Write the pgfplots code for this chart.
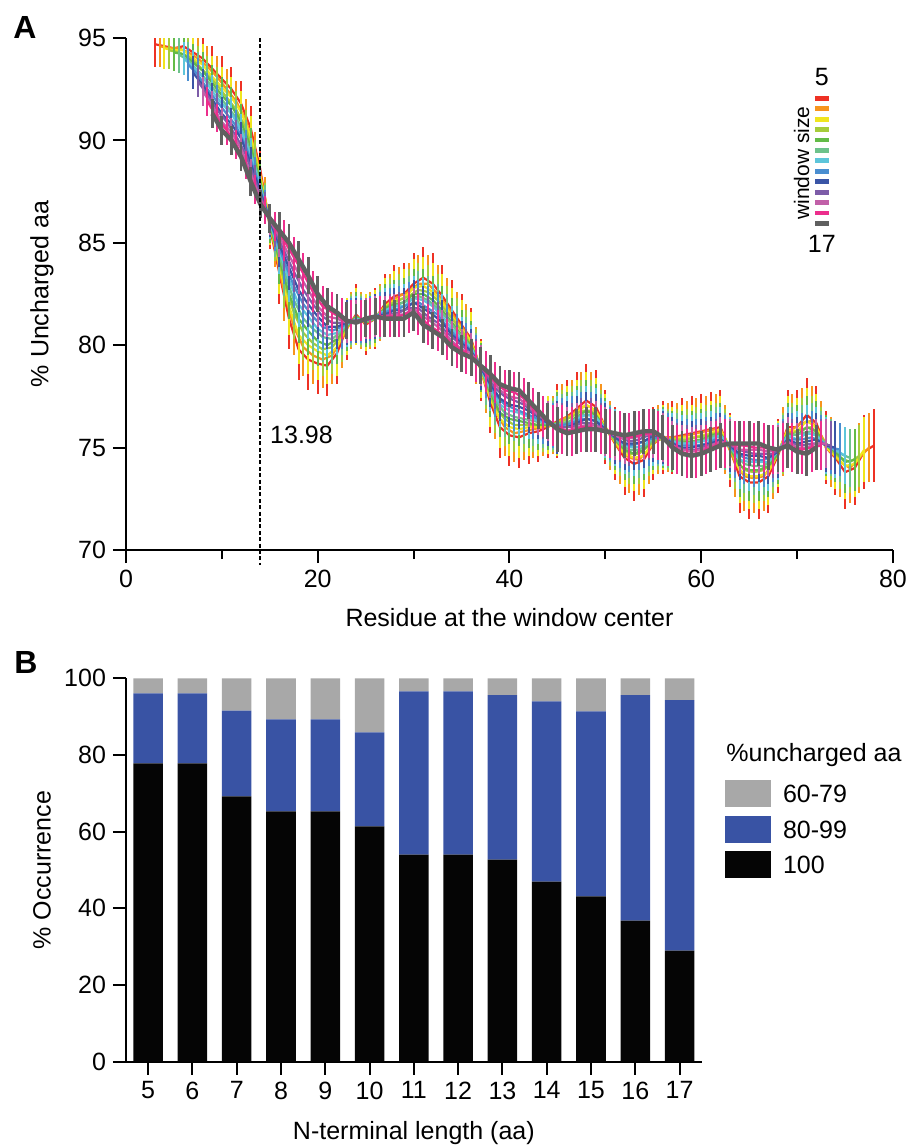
\documentclass[border=0pt]{standalone}
\usepackage{fontspec}
\setmainfont{Liberation Sans}
\usepackage{pgfplots}
\pgfplotsset{compat=1.18}
\usepackage{pgfplotstable}
\definecolor{c5}{HTML}{EE3124}
\definecolor{c6}{HTML}{F7941D}
\definecolor{c7}{HTML}{F0E51E}
\definecolor{c8}{HTML}{A6CC3A}
\definecolor{c9}{HTML}{63BB47}
\definecolor{c10}{HTML}{6DC28B}
\definecolor{c11}{HTML}{5DC5DA}
\definecolor{c12}{HTML}{4A8ED0}
\definecolor{c13}{HTML}{3A55A6}
\definecolor{c14}{HTML}{7D5CA8}
\definecolor{c15}{HTML}{C160A8}
\definecolor{c16}{HTML}{EC2E8C}
\definecolor{c17}{HTML}{606060}
\definecolor{bgray}{HTML}{A8A8A8}
\definecolor{bblue}{HTML}{3953A4}
\definecolor{bblack}{HTML}{050505}
% window size 5
\pgfplotstableread{
x y e
3 94.7 1.1
4 94.6 1.1
5 94.5 1.1
6 94.6 1.1
7 94.3 1.1
8 94.0 1.1
9 93.5 1.1
10 93.0 1.1
11 92.5 1.1
12 91.8 1.1
13 90.6 1.1
14 88.6 1.1
15 85.8 1.1
16 83.5 1.5
17 81.3 1.5
18 79.8 1.5
19 79.3 1.5
20 79.1 1.5
21 79.0 1.5
22 79.6 1.5
23 80.8 1.5
24 81.5 1.5
25 81.0 1.5
26 81.3 1.5
27 82.0 1.5
28 82.4 1.5
29 82.5 1.5
30 83.0 1.5
31 83.3 1.5
32 83.0 1.5
33 82.4 1.5
34 81.7 1.5
35 81.0 1.5
36 80.3 1.5
37 78.8 1.5
38 77.2 1.5
39 76.0 1.5
40 75.6 1.5
41 75.5 1.5
42 75.7 1.5
43 75.8 1.5
44 76.0 1.5
45 76.3 1.8
46 76.5 1.8
47 76.9 1.8
48 77.3 1.8
49 77.0 1.8
50 76.0 1.8
51 75.2 1.8
52 74.5 1.8
53 74.2 1.8
54 74.4 1.8
55 75.2 1.8
56 75.5 1.8
57 75.5 1.8
58 75.6 1.8
59 75.7 1.8
60 75.8 1.8
61 75.9 1.8
62 76.0 1.8
63 74.9 1.8
64 73.6 1.8
65 73.3 1.8
66 73.3 1.8
67 73.6 1.8
68 74.6 1.8
69 76.0 1.8
70 76.0 1.8
71 76.6 1.8
72 76.2 1.8
73 75.0 1.8
74 74.5 1.8
75 73.8 1.8
76 74.0 1.8
77 74.8 1.8
78 75.1 1.8
}\dwA
% window size 6
\pgfplotstableread{
x y e
3.5 94.6 1.0
4.5 94.5 1.0
5.5 94.5 1.0
6.5 94.3 1.0
7.5 94.0 1.0
8.5 93.6 1.0
9.5 93.1 1.0
10.5 92.5 1.0
11.5 91.9 1.0
12.5 91.0 1.0
13.5 89.4 1.0
14.5 87.2 1.0
15.5 84.8 1.0
16.5 82.6 1.4
17.5 80.9 1.4
18.5 79.9 1.4
19.5 79.5 1.4
20.5 79.3 1.4
21.5 79.5 1.4
22.5 80.3 1.4
23.5 81.2 1.4
24.5 81.2 1.4
25.5 81.2 1.4
26.5 81.6 1.4
27.5 82.1 1.4
28.5 82.4 1.4
29.5 82.6 1.4
30.5 83.0 1.4
31.5 83.0 1.4
32.5 82.5 1.4
33.5 81.9 1.4
34.5 81.2 1.4
35.5 80.6 1.4
36.5 79.5 1.4
37.5 78.1 1.4
38.5 76.8 1.4
39.5 76.0 1.4
40.5 75.7 1.4
41.5 75.8 1.4
42.5 75.9 1.4
43.5 76.0 1.4
44.5 76.1 1.4
45.5 76.4 1.7
46.5 76.6 1.7
47.5 77.0 1.7
48.5 77.0 1.7
49.5 76.4 1.7
50.5 75.6 1.7
51.5 74.9 1.7
52.5 74.5 1.7
53.5 74.4 1.7
54.5 74.9 1.7
55.5 75.4 1.7
56.5 75.5 1.7
57.5 75.5 1.7
58.5 75.6 1.7
59.5 75.7 1.7
60.5 75.8 1.7
61.5 75.9 1.7
62.5 75.4 1.7
63.5 74.3 1.7
64.5 73.6 1.7
65.5 73.5 1.7
66.5 73.6 1.7
67.5 74.2 1.7
68.5 75.3 1.7
69.5 75.9 1.7
70.5 76.2 1.7
71.5 76.3 1.7
72.5 75.6 1.7
73.5 74.8 1.7
74.5 74.3 1.7
75.5 74.0 1.7
76.5 74.5 1.7
77.5 75.0 1.7
}\dwB
% window size 7
\pgfplotstableread{
x y e
4 94.5 1.0
5 94.4 1.0
6 94.4 1.0
7 94.0 1.0
8 93.7 1.0
9 93.1 1.0
10 92.6 1.0
11 92.1 1.0
12 91.4 1.0
13 90.2 1.0
14 88.3 1.0
15 85.9 1.0
16 83.9 1.4
17 81.9 1.4
18 80.5 1.4
19 80.0 1.4
20 79.7 1.4
21 79.5 1.4
22 79.9 1.4
23 80.9 1.4
24 81.4 1.4
25 81.1 1.4
26 81.3 1.4
27 81.9 1.4
28 82.2 1.4
29 82.3 1.4
30 82.8 1.4
31 82.9 1.4
32 82.6 1.4
33 82.1 1.4
34 81.4 1.4
35 80.8 1.4
36 80.2 1.4
37 78.8 1.4
38 77.4 1.4
39 76.4 1.4
40 76.0 1.4
41 75.9 1.4
42 76.0 1.4
43 76.0 1.4
44 76.1 1.4
45 76.2 1.6
46 76.4 1.6
47 76.7 1.6
48 77.1 1.6
49 76.8 1.6
50 76.0 1.6
51 75.3 1.6
52 74.7 1.6
53 74.5 1.6
54 74.6 1.6
55 75.3 1.6
56 75.5 1.6
57 75.4 1.6
58 75.5 1.6
59 75.5 1.6
60 75.6 1.6
61 75.7 1.6
62 75.9 1.6
63 75.0 1.6
64 73.9 1.6
65 73.6 1.6
66 73.6 1.6
67 73.8 1.6
68 74.7 1.6
69 75.9 1.6
70 75.8 1.6
71 76.3 1.6
72 76.0 1.6
73 75.0 1.6
74 74.6 1.6
75 74.1 1.6
76 74.2 1.6
77 74.9 1.6
}\dwC
% window size 8
\pgfplotstableread{
x y e
4.5 94.4 0.9
5.5 94.3 0.9
6.5 94.1 0.9
7.5 93.7 0.9
8.5 93.2 0.9
9.5 92.7 0.9
10.5 92.1 0.9
11.5 91.5 0.9
12.5 90.6 0.9
13.5 89.1 0.9
14.5 87.0 0.9
15.5 85.0 0.9
16.5 83.1 1.3
17.5 81.6 1.3
18.5 80.6 1.3
19.5 80.1 1.3
20.5 79.8 1.3
21.5 79.9 1.3
22.5 80.5 1.3
23.5 81.2 1.3
24.5 81.2 1.3
25.5 81.2 1.3
26.5 81.6 1.3
27.5 82.0 1.3
28.5 82.2 1.3
29.5 82.4 1.3
30.5 82.7 1.3
31.5 82.6 1.3
32.5 82.2 1.3
33.5 81.6 1.3
34.5 81.0 1.3
35.5 80.4 1.3
36.5 79.5 1.3
37.5 78.2 1.3
38.5 77.0 1.3
39.5 76.4 1.3
40.5 76.1 1.3
41.5 76.1 1.3
42.5 76.1 1.3
43.5 76.1 1.3
44.5 76.1 1.3
45.5 76.3 1.5
46.5 76.5 1.5
47.5 76.8 1.5
48.5 76.8 1.5
49.5 76.3 1.5
50.5 75.6 1.5
51.5 75.1 1.5
52.5 74.7 1.5
53.5 74.7 1.5
54.5 75.1 1.5
55.5 75.4 1.5
56.5 75.4 1.5
57.5 75.4 1.5
58.5 75.4 1.5
59.5 75.5 1.5
60.5 75.6 1.5
61.5 75.7 1.5
62.5 75.4 1.5
63.5 74.5 1.5
64.5 73.9 1.5
65.5 73.8 1.5
66.5 73.9 1.5
67.5 74.3 1.5
68.5 75.2 1.5
69.5 75.7 1.5
70.5 75.9 1.5
71.5 76.0 1.5
72.5 75.5 1.5
73.5 74.9 1.5
74.5 74.5 1.5
75.5 74.3 1.5
76.5 74.6 1.5
}\dwD
% window size 9
\pgfplotstableread{
x y e
5 94.3 0.9
6 94.2 0.9
7 93.8 0.9
8 93.4 0.9
9 92.8 0.9
10 92.2 0.9
11 91.7 0.9
12 90.9 0.9
13 89.7 0.9
14 88.0 0.9
15 85.9 0.9
16 84.2 1.2
17 82.5 1.2
18 81.3 1.2
19 80.7 1.2
20 80.2 1.2
21 80.0 1.2
22 80.3 1.2
23 80.9 1.2
24 81.4 1.2
25 81.1 1.2
26 81.3 1.2
27 81.8 1.2
28 82.0 1.2
29 82.1 1.2
30 82.5 1.2
31 82.5 1.2
32 82.2 1.2
33 81.7 1.2
34 81.1 1.2
35 80.5 1.2
36 80.0 1.2
37 78.9 1.2
38 77.7 1.2
39 76.7 1.2
40 76.4 1.2
41 76.3 1.2
42 76.2 1.2
43 76.1 1.2
44 76.1 1.2
45 76.2 1.5
46 76.2 1.5
47 76.5 1.5
48 76.8 1.5
49 76.6 1.5
50 75.9 1.5
51 75.4 1.5
52 74.9 1.5
53 74.7 1.5
54 74.9 1.5
55 75.4 1.5
56 75.5 1.5
57 75.3 1.5
58 75.3 1.5
59 75.3 1.5
60 75.4 1.5
61 75.6 1.5
62 75.7 1.5
63 75.0 1.5
64 74.1 1.5
65 73.9 1.5
66 73.9 1.5
67 74.1 1.5
68 74.7 1.5
69 75.7 1.5
70 75.6 1.5
71 76.0 1.5
72 75.8 1.5
73 75.1 1.5
74 74.8 1.5
75 74.3 1.5
76 74.4 1.5
}\dwE
% window size 10
\pgfplotstableread{
x y e
5.5 94.2 0.9
6.5 93.9 0.9
7.5 93.4 0.9
8.5 92.9 0.9
9.5 92.3 0.9
10.5 91.7 0.9
11.5 91.1 0.9
12.5 90.1 0.9
13.5 88.7 0.9
14.5 86.9 0.9
15.5 85.2 0.9
16.5 83.6 1.2
17.5 82.2 1.2
18.5 81.3 1.2
19.5 80.8 1.2
20.5 80.4 1.2
21.5 80.3 1.2
22.5 80.7 1.2
23.5 81.2 1.2
24.5 81.2 1.2
25.5 81.2 1.2
26.5 81.5 1.2
27.5 81.8 1.2
28.5 82.0 1.2
29.5 82.2 1.2
30.5 82.4 1.2
31.5 82.2 1.2
32.5 81.8 1.2
33.5 81.3 1.2
34.5 80.7 1.2
35.5 80.2 1.2
36.5 79.4 1.2
37.5 78.3 1.2
38.5 77.3 1.2
39.5 76.7 1.2
40.5 76.5 1.2
41.5 76.4 1.2
42.5 76.3 1.2
43.5 76.2 1.2
44.5 76.1 1.2
45.5 76.2 1.4
46.5 76.3 1.4
47.5 76.6 1.4
48.5 76.6 1.4
49.5 76.2 1.4
50.5 75.7 1.4
51.5 75.2 1.4
52.5 74.9 1.4
53.5 74.9 1.4
54.5 75.2 1.4
55.5 75.5 1.4
56.5 75.4 1.4
57.5 75.3 1.4
58.5 75.2 1.4
59.5 75.3 1.4
60.5 75.4 1.4
61.5 75.6 1.4
62.5 75.3 1.4
63.5 74.7 1.4
64.5 74.2 1.4
65.5 74.1 1.4
66.5 74.1 1.4
67.5 74.5 1.4
68.5 75.2 1.4
69.5 75.6 1.4
70.5 75.7 1.4
71.5 75.8 1.4
72.5 75.4 1.4
73.5 75.0 1.4
74.5 74.7 1.4
75.5 74.5 1.4
}\dwF
% window size 11
\pgfplotstableread{
x y e
6 94.0 0.8
7 93.6 0.8
8 93.1 0.8
9 92.4 0.8
10 91.8 0.8
11 91.3 0.8
12 90.5 0.8
13 89.3 0.8
14 87.8 0.8
15 86.0 0.8
16 84.6 1.1
17 83.2 1.1
18 82.0 1.1
19 81.4 1.1
20 80.8 1.1
21 80.5 1.1
22 80.6 1.1
23 81.0 1.1
24 81.3 1.1
25 81.2 1.1
26 81.4 1.1
27 81.7 1.1
28 81.9 1.1
29 81.9 1.1
30 82.3 1.1
31 82.2 1.1
32 81.9 1.1
33 81.4 1.1
34 80.8 1.1
35 80.3 1.1
36 79.9 1.1
37 78.9 1.1
38 77.9 1.1
39 77.1 1.1
40 76.8 1.1
41 76.7 1.1
42 76.5 1.1
43 76.3 1.1
44 76.2 1.1
45 76.1 1.4
46 76.1 1.4
47 76.4 1.4
48 76.6 1.4
49 76.5 1.4
50 75.9 1.4
51 75.5 1.4
52 75.1 1.4
53 75.0 1.4
54 75.1 1.4
55 75.5 1.4
56 75.5 1.4
57 75.3 1.4
58 75.2 1.4
59 75.2 1.4
60 75.3 1.4
61 75.4 1.4
62 75.6 1.4
63 75.1 1.4
64 74.4 1.4
65 74.3 1.4
66 74.3 1.4
67 74.3 1.4
68 74.8 1.4
69 75.6 1.4
70 75.4 1.4
71 75.7 1.4
72 75.6 1.4
73 75.1 1.4
74 74.9 1.4
75 74.6 1.4
}\dwG
% window size 12
\pgfplotstableread{
x y e
6.5 93.7 0.8
7.5 93.2 0.8
8.5 92.5 0.8
9.5 91.9 0.8
10.5 91.3 0.8
11.5 90.7 0.8
12.5 89.7 0.8
13.5 88.4 0.8
14.5 86.8 0.8
15.5 85.4 0.8
16.5 84.1 1.1
17.5 82.9 1.1
18.5 82.0 1.1
19.5 81.4 1.1
20.5 80.9 1.1
21.5 80.7 1.1
22.5 80.9 1.1
23.5 81.2 1.1
24.5 81.2 1.1
25.5 81.3 1.1
26.5 81.5 1.1
27.5 81.7 1.1
28.5 81.8 1.1
29.5 82.0 1.1
30.5 82.1 1.1
31.5 81.8 1.1
32.5 81.5 1.1
33.5 80.9 1.1
34.5 80.4 1.1
35.5 80.0 1.1
36.5 79.4 1.1
37.5 78.5 1.1
38.5 77.6 1.1
39.5 77.1 1.1
40.5 76.9 1.1
41.5 76.7 1.1
42.5 76.5 1.1
43.5 76.3 1.1
44.5 76.1 1.1
45.5 76.1 1.3
46.5 76.2 1.3
47.5 76.4 1.3
48.5 76.4 1.3
49.5 76.1 1.3
50.5 75.7 1.3
51.5 75.3 1.3
52.5 75.1 1.3
53.5 75.2 1.3
54.5 75.4 1.3
55.5 75.5 1.3
56.5 75.4 1.3
57.5 75.1 1.3
58.5 75.1 1.3
59.5 75.1 1.3
60.5 75.2 1.3
61.5 75.4 1.3
62.5 75.3 1.3
63.5 74.8 1.3
64.5 74.5 1.3
65.5 74.4 1.3
66.5 74.4 1.3
67.5 74.6 1.3
68.5 75.1 1.3
69.5 75.4 1.3
70.5 75.4 1.3
71.5 75.5 1.3
72.5 75.3 1.3
73.5 75.0 1.3
74.5 74.9 1.3
}\dwH
% window size 13
\pgfplotstableread{
x y e
7 93.3 0.8
8 92.7 0.8
9 92.0 0.8
10 91.3 0.8
11 90.8 0.8
12 90.1 0.8
13 88.9 0.8
14 87.5 0.8
15 86.1 0.8
16 84.9 1.1
17 83.8 1.1
18 82.7 1.1
19 82.0 1.1
20 81.4 1.1
21 80.9 1.1
22 80.9 1.1
23 81.1 1.1
24 81.2 1.1
25 81.2 1.1
26 81.4 1.1
27 81.5 1.1
28 81.7 1.1
29 81.7 1.1
30 82.1 1.1
31 81.8 1.1
32 81.5 1.1
33 81.1 1.1
34 80.5 1.1
35 80.1 1.1
36 79.7 1.1
37 78.9 1.1
38 78.1 1.1
39 77.4 1.1
40 77.1 1.1
41 77.0 1.1
42 76.8 1.1
43 76.5 1.1
44 76.2 1.1
45 76.0 1.3
46 76.0 1.3
47 76.2 1.3
48 76.4 1.3
49 76.3 1.3
50 75.9 1.3
51 75.5 1.3
52 75.2 1.3
53 75.2 1.3
54 75.3 1.3
55 75.6 1.3
56 75.5 1.3
57 75.2 1.3
58 75.0 1.3
59 75.0 1.3
60 75.1 1.3
61 75.2 1.3
62 75.4 1.3
63 75.1 1.3
64 74.7 1.3
65 74.6 1.3
66 74.6 1.3
67 74.5 1.3
68 74.8 1.3
69 75.4 1.3
70 75.2 1.3
71 75.3 1.3
72 75.4 1.3
73 75.1 1.3
74 75.0 1.3
}\dwI
% window size 14
\pgfplotstableread{
x y e
7.5 92.9 0.8
8.5 92.2 0.8
9.5 91.5 0.8
10.5 90.9 0.8
11.5 90.2 0.8
12.5 89.3 0.8
13.5 88.0 0.8
14.5 86.7 0.8
15.5 85.6 0.8
16.5 84.6 1.0
17.5 83.6 1.0
18.5 82.7 1.0
19.5 82.0 1.0
20.5 81.4 1.0
21.5 81.1 1.0
22.5 81.1 1.0
23.5 81.2 1.0
24.5 81.2 1.0
25.5 81.3 1.0
26.5 81.4 1.0
27.5 81.5 1.0
28.5 81.6 1.0
29.5 81.8 1.0
30.5 81.8 1.0
31.5 81.4 1.0
32.5 81.1 1.0
33.5 80.6 1.0
34.5 80.2 1.0
35.5 79.8 1.0
36.5 79.3 1.0
37.5 78.6 1.0
38.5 77.9 1.0
39.5 77.5 1.0
40.5 77.3 1.0
41.5 77.1 1.0
42.5 76.7 1.0
43.5 76.4 1.0
44.5 76.1 1.0
45.5 76.0 1.2
46.5 76.0 1.2
47.5 76.2 1.2
48.5 76.2 1.2
49.5 76.0 1.2
50.5 75.7 1.2
51.5 75.5 1.2
52.5 75.3 1.2
53.5 75.4 1.2
54.5 75.6 1.2
55.5 75.6 1.2
56.5 75.3 1.2
57.5 75.0 1.2
58.5 74.9 1.2
59.5 74.9 1.2
60.5 75.1 1.2
61.5 75.2 1.2
62.5 75.2 1.2
63.5 75.0 1.2
64.5 74.8 1.2
65.5 74.7 1.2
66.5 74.7 1.2
67.5 74.7 1.2
68.5 75.1 1.2
69.5 75.2 1.2
70.5 75.1 1.2
71.5 75.2 1.2
72.5 75.2 1.2
73.5 75.1 1.2
}\dwJ
% window size 15
\pgfplotstableread{
x y e
8 92.4 0.7
9 91.7 0.7
10 90.9 0.7
11 90.4 0.7
12 89.6 0.7
13 88.4 0.7
14 87.2 0.7
15 86.1 0.7
16 85.3 1.0
17 84.4 1.0
18 83.5 1.0
19 82.7 1.0
20 81.9 1.0
21 81.4 1.0
22 81.3 1.0
23 81.1 1.0
24 81.2 1.0
25 81.3 1.0
26 81.4 1.0
27 81.4 1.0
28 81.5 1.0
29 81.5 1.0
30 81.8 1.0
31 81.4 1.0
32 81.1 1.0
33 80.7 1.0
34 80.2 1.0
35 79.8 1.0
36 79.6 1.0
37 79.0 1.0
38 78.4 1.0
39 77.8 1.0
40 77.5 1.0
41 77.4 1.0
42 77.0 1.0
43 76.6 1.0
44 76.3 1.0
45 76.0 1.2
46 75.8 1.2
47 76.0 1.2
48 76.1 1.2
49 76.1 1.2
50 75.8 1.2
51 75.6 1.2
52 75.4 1.2
53 75.5 1.2
54 75.6 1.2
55 75.7 1.2
56 75.5 1.2
57 75.1 1.2
58 74.9 1.2
59 74.8 1.2
60 74.9 1.2
61 75.1 1.2
62 75.3 1.2
63 75.2 1.2
64 74.9 1.2
65 74.9 1.2
66 74.9 1.2
67 74.8 1.2
68 74.9 1.2
69 75.3 1.2
70 75.0 1.2
71 75.0 1.2
72 75.2 1.2
73 75.2 1.2
}\dwK
% window size 16
\pgfplotstableread{
x y e
8.5 91.9 0.7
9.5 91.1 0.7
10.5 90.5 0.7
11.5 89.8 0.7
12.5 88.8 0.7
13.5 87.6 0.7
14.5 86.6 0.7
15.5 85.8 0.7
16.5 85.1 1.0
17.5 84.3 1.0
18.5 83.5 1.0
19.5 82.6 1.0
20.5 81.9 1.0
21.5 81.6 1.0
22.5 81.3 1.0
23.5 81.2 1.0
24.5 81.2 1.0
25.5 81.3 1.0
26.5 81.4 1.0
27.5 81.4 1.0
28.5 81.4 1.0
29.5 81.6 1.0
30.5 81.5 1.0
31.5 81.0 1.0
32.5 80.7 1.0
33.5 80.3 1.0
34.5 79.9 1.0
35.5 79.6 1.0
36.5 79.2 1.0
37.5 78.7 1.0
38.5 78.2 1.0
39.5 77.8 1.0
40.5 77.7 1.0
41.5 77.4 1.0
42.5 76.9 1.0
43.5 76.5 1.0
44.5 76.1 1.0
45.5 75.9 1.2
46.5 75.8 1.2
47.5 76.0 1.2
48.5 76.0 1.2
49.5 75.9 1.2
50.5 75.7 1.2
51.5 75.6 1.2
52.5 75.5 1.2
53.5 75.6 1.2
54.5 75.7 1.2
55.5 75.6 1.2
56.5 75.3 1.2
57.5 74.9 1.2
58.5 74.7 1.2
59.5 74.7 1.2
60.5 74.9 1.2
61.5 75.1 1.2
62.5 75.2 1.2
63.5 75.1 1.2
64.5 75.1 1.2
65.5 75.0 1.2
66.5 75.0 1.2
67.5 74.9 1.2
68.5 75.0 1.2
69.5 75.0 1.2
70.5 74.9 1.2
71.5 75.0 1.2
72.5 75.1 1.2
}\dwL
% window size 17
\pgfplotstableread{
x y e
9 91.3 0.7
10 90.5 0.7
11 90.0 0.7
12 89.2 0.7
13 88.0 0.7
14 86.9 0.7
15 86.2 0.7
16 85.6 0.9
17 85.0 0.9
18 84.2 0.9
19 83.4 0.9
20 82.5 0.9
21 81.9 0.9
22 81.6 0.9
23 81.2 0.9
24 81.1 0.9
25 81.3 0.9
26 81.4 0.9
27 81.3 0.9
28 81.3 0.9
29 81.3 0.9
30 81.6 0.9
31 81.0 0.9
32 80.7 0.9
33 80.4 0.9
34 79.9 0.9
35 79.6 0.9
36 79.4 0.9
37 79.0 0.9
38 78.6 0.9
39 78.1 0.9
40 77.9 0.9
41 77.8 0.9
42 77.3 0.9
43 76.8 0.9
44 76.3 0.9
45 75.9 1.1
46 75.7 1.1
47 75.8 1.1
48 75.9 1.1
49 75.9 1.1
50 75.8 1.1
51 75.7 1.1
52 75.6 1.1
53 75.7 1.1
54 75.8 1.1
55 75.8 1.1
56 75.5 1.1
57 75.0 1.1
58 74.7 1.1
59 74.6 1.1
60 74.7 1.1
61 74.9 1.1
62 75.1 1.1
63 75.2 1.1
64 75.2 1.1
65 75.2 1.1
66 75.2 1.1
67 75.0 1.1
68 74.9 1.1
69 75.1 1.1
70 74.8 1.1
71 74.7 1.1
72 75.0 1.1
}\dwM
% panel B
\pgfplotstableread{
n full mid low
5 77.8 18.3 3.9
6 77.8 18.3 3.9
7 69.2 22.4 8.4
8 65.3 24.0 10.7
9 65.3 24.0 10.7
10 61.4 24.5 14.1
11 54.0 42.6 3.4
12 54.0 42.6 3.4
13 52.7 42.9 4.4
14 47.0 47.0 6.0
15 43.1 48.3 8.6
16 36.8 58.8 4.4
17 29.0 65.3 5.7
}\occ
\newcommand{\fs}{\fontsize{12.5}{15}\selectfont}
\pgfplotsset{
  ws/.style={color=#1, line width=1.1pt, mark=none,
    error bars/y dir=both, error bars/y explicit, error bars/error mark=none,
    error bars/error bar style={line width=1pt, #1}},
  myax/.style={scale only axis, axis lines=left,
    axis line style={-, line width=1pt}, x axis line style={-}, y axis line style={-},
    tick align=outside, major tick length=6.5pt, minor tick length=4.5pt,
    every tick/.style={black, line width=1pt},
    tick label style={font=\fs},
    /pgf/number format/assume math mode=true},
}
\begin{document}
\begin{tikzpicture}[x=1pt,y=1pt]
\useasboundingbox (0,0) rectangle (455,-573);
% Panel labels
\node[anchor=base west, inner sep=0, font=\fontsize{16}{19}\selectfont\bfseries] at (6.5,-19) {A};
\node[anchor=base west, inner sep=0, font=\fontsize{16}{19}\selectfont\bfseries] at (7,-336.5) {B};
% Panel A
\begin{axis}[myax, at={(63pt,-275pt)}, anchor=south west,
  width=383.5pt, height=256pt,
  xmin=0, xmax=80, ymin=70, ymax=95,
  xtick={0,20,40,60,80}, minor xtick={10,30,50,70},
  ytick={70,75,80,85,90,95},
  xlabel={Residue at the window center},
  ylabel={\% Uncharged aa},
  every axis x label/.style={at={(axis description cs:0.5,-0.131)}, anchor=center, font=\fs},
  every axis y label/.style={at={(axis description cs:-0.1095,0.5)}, rotate=90, anchor=center, font=\fs},
  after end axis/.code={
    \draw[black, line width=1pt, dash pattern=on 2pt off 1.2pt] (axis cs:13.98,95) -- ([yshift=-7.5pt]axis cs:13.98,70);
    \node[anchor=west, inner sep=0, font=\fs] at (axis cs:15.0,75.6) {13.98};
  }]
\addplot[ws=c5] table[x=x,y=y,y error=e] {\dwA};
\addplot[ws=c6] table[x=x,y=y,y error=e] {\dwB};
\addplot[ws=c7] table[x=x,y=y,y error=e] {\dwC};
\addplot[ws=c8] table[x=x,y=y,y error=e] {\dwD};
\addplot[ws=c9] table[x=x,y=y,y error=e] {\dwE};
\addplot[ws=c10] table[x=x,y=y,y error=e] {\dwF};
\addplot[ws=c11] table[x=x,y=y,y error=e] {\dwG};
\addplot[ws=c12] table[x=x,y=y,y error=e] {\dwH};
\addplot[ws=c13] table[x=x,y=y,y error=e] {\dwI};
\addplot[ws=c14] table[x=x,y=y,y error=e] {\dwJ};
\addplot[ws=c15] table[x=x,y=y,y error=e] {\dwK};
\addplot[ws=c16] table[x=x,y=y,y error=e] {\dwL};
\addplot[ws=c17, line width=2.2pt, error bars/error bar style={line width=1.4pt}] table[x=x,y=y,y error=e] {\dwM};
\end{axis}
% window size legend
\node[inner sep=0, font=\fs] at (410.9,-38.3) {5};
\node[inner sep=0, font=\fs] at (410.9,-122) {17};
\node[inner sep=0, rotate=90, font=\fontsize{10.5}{12}\selectfont] at (400.8,-81.5) {window size};
\foreach \c [count=\i from 0] in {c5,c6,c7,c8,c9,c10,c11,c12,c13,c14,c15,c16,c17} {
  \fill[\c] (407.5,{-49.15-5.215*\i+1.2}) rectangle (414.3,{-49.15-5.215*\i-1.2});
}
% Panel B
\begin{axis}[myax, at={(63pt,-530.85pt)}, anchor=south west,
  width=287.85pt, height=191.7pt,
  xmin=4.5, xmax=17.5, ymin=0, ymax=100,
  xtick={5,6,...,17}, ytick={0,20,40,60,80,100},
  ybar stacked, bar width=0.667,
  xlabel={N-terminal length (aa)},
  ylabel={\% Occurrence},
  every axis x label/.style={at={(axis description cs:0.5,-0.186)}, anchor=center, font=\fs},
  every axis y label/.style={at={(axis description cs:-0.1459,0.5)}, rotate=90, anchor=center, font=\fs}]
\addplot[fill=bblack, draw=none] table[x=n,y=full] {\occ};
\addplot[fill=bblue, draw=none] table[x=n,y=mid] {\occ};
\addplot[fill=bgray, draw=none] table[x=n,y=low] {\occ};
\end{axis}
% legend B
\node[anchor=west, inner sep=0, font=\fs] at (363,-377.5) {\%uncharged aa};
\fill[bgray] (362.5,-390) rectangle (385.5,-403.35);
\fill[bblue] (362.5,-408) rectangle (385.5,-421.35);
\fill[bblack] (362.5,-425.5) rectangle (385.5,-438.85);
\node[anchor=west, inner sep=0, font=\fs] at (391.3,-396.7) {60-79};
\node[anchor=west, inner sep=0, font=\fs] at (391.3,-414.7) {80-99};
\node[anchor=west, inner sep=0, font=\fs] at (391.3,-432.2) {100};
\end{tikzpicture}
\end{document}
